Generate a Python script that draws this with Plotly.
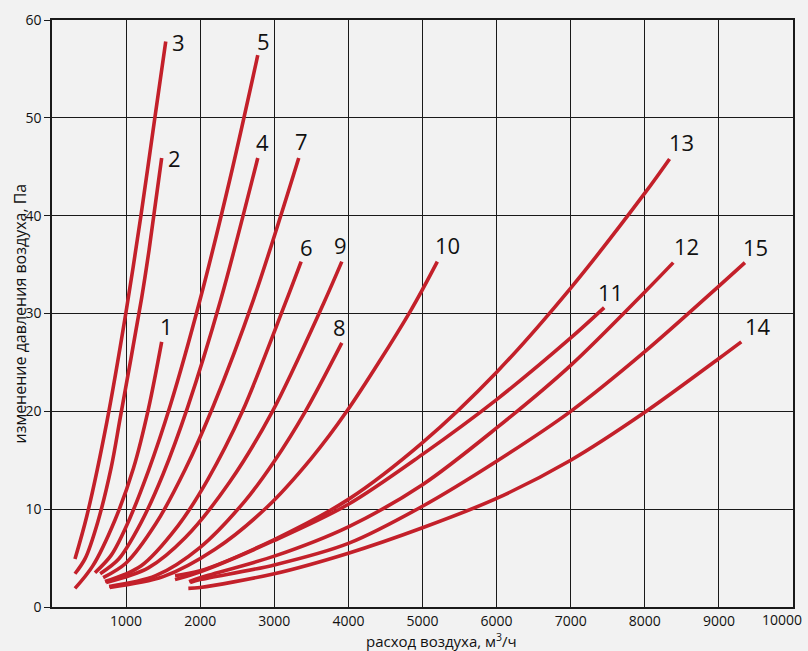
import plotly.graph_objects as go

BG = "#f2f2f2"
RED = "#c3202a"
INK = "#1a1a1a"
TEXT = "#111111"
FONT = "Open Sans"

# curve data: air flow (m3/h) -> pressure change (Pa)
C1_X = [310, 550, 850, 1100, 1300, 1480]
C1_Y = [1.9, 4.2, 8.9, 14.2, 20.2, 27.1]
C2_X = [310, 450, 618, 800, 920, 1210, 1310, 1480]
C2_Y = [3.4, 5.0, 8.7, 14.3, 19.3, 31.6, 36.5, 45.9]
C3_X = [310, 470, 740, 1000, 1200, 1388, 1535]
C3_Y = [4.9, 9.3, 18.9, 30.2, 40.0, 50.0, 57.8]
C4_X = [650, 900, 1200, 1500, 1830, 2277, 2777]
C4_Y = [3.4, 4.9, 8.6, 13.6, 20.4, 31.4, 45.9]
C5_X = [580, 800, 1000, 1300, 1600, 1998, 2400, 2777]
C5_Y = [3.5, 5.3, 8.2, 13.9, 20.7, 31.4, 43.7, 56.4]
C6_X = [715, 1200, 1700, 2100, 2570, 3146, 3362]
C6_Y = [2.6, 4.2, 8.3, 13.0, 20.0, 31.0, 35.3]
C7_X = [690, 1000, 1400, 1800, 2180, 2718, 3330]
C7_Y = [3.0, 4.5, 8.5, 14.1, 20.6, 31.4, 45.9]
C8_X = [770, 1400, 2000, 2600, 3000, 3420, 3911]
C8_Y = [2.1, 3.2, 6.1, 10.8, 14.9, 20.0, 27.0]
C9_X = [730, 1300, 1800, 2400, 2975, 3663, 3911]
C9_Y = [2.5, 4.0, 7.1, 12.8, 20.0, 31.0, 35.3]
C10_X = [780, 1500, 2200, 2900, 3500, 3978, 4833, 5200]
C10_Y = [2.0, 3.1, 5.9, 10.2, 15.2, 20.0, 30.2, 35.3]
C11_X = [1660, 2000, 3000, 4000, 5000, 6000, 7000, 7452]
C11_Y = [2.8, 3.6, 6.8, 10.5, 15.6, 21.2, 27.5, 30.6]
C12_X = [1850, 2000, 3000, 4000, 5000, 6000, 7000, 8000, 8384]
C12_Y = [2.6, 3.0, 5.2, 8.2, 12.5, 18.3, 24.7, 32.2, 35.2]
C13_X = [1660, 2000, 3000, 4000, 5000, 6000, 7000, 8000, 8334]
C13_Y = [3.2, 3.7, 6.9, 11.0, 16.8, 24.0, 32.6, 42.3, 45.8]
C14_X = [1840, 2000, 3000, 4000, 5000, 6000, 7000, 8000, 9000, 9302]
C14_Y = [1.9, 2.0, 3.4, 5.5, 8.1, 11.1, 15.0, 19.9, 25.4, 27.1]
C15_X = [1863, 2000, 3000, 4000, 5000, 6000, 7000, 8000, 9000, 9351]
C15_Y = [2.5, 2.8, 4.3, 6.5, 10.3, 14.9, 20.0, 26.1, 32.8, 35.2]

CURVE_NAMES = ["1", "2", "3", "4", "5", "6", "7", "8", "9", "10",
               "11", "12", "13", "14", "15"]
CURVES = [
  (C1_X, C1_Y), (C2_X, C2_Y), (C3_X, C3_Y), (C4_X, C4_Y), (C5_X, C5_Y),
  (C6_X, C6_Y), (C7_X, C7_Y), (C8_X, C8_Y), (C9_X, C9_Y), (C10_X, C10_Y),
  (C11_X, C11_Y), (C12_X, C12_Y), (C13_X, C13_Y), (C14_X, C14_Y),
  (C15_X, C15_Y),
]

X_TICKS = [1000, 2000, 3000, 4000, 5000, 6000, 7000, 8000, 9000, 10000]
Y_TICKS = [0, 10, 20, 30, 40, 50, 60]
X_TITLE = "расход воздуха, м<sup>3</sup>/ч"
Y_TITLE = "изменение давления воздуха, Па"

# pixel offset of each number label from its curve's end point
LABEL_SHIFT = {
  "1": (5, 16), "2": (13, 0), "3": (13, 0), "4": (5, 16), "5": (6, 14),
  "6": (5, 15), "7": (3, 17), "8": (-2, 16), "9": (-1, 17), "10": (10, 17),
  "11": (6, 16), "12": (13, 17), "13": (12, 17), "14": (17, 16),
  "15": (11, 16),
}

fig = go.Figure()
for name, (xs, ys) in zip(CURVE_NAMES, CURVES):
  fig.add_trace(
    go.Scatter(
      x=xs,
      y=ys,
      mode="lines",
      line=dict(color=RED, width=3.6, shape="spline", smoothing=0.9),
      name=name,
      hoverinfo="skip",
    )
  )
  dx, dy = LABEL_SHIFT[name]
  fig.add_annotation(
    x=xs[-1],
    y=ys[-1],
    text=name,
    showarrow=False,
    xshift=dx,
    yshift=dy,
    xanchor="center",
    yanchor="middle",
    font=dict(family=FONT, size=22, color=TEXT),
  )

# last x tick label sits pulled in from the right edge
tick_text = [str(v) for v in X_TICKS]
tick_text[-1] = ""
fig.add_annotation(
  x=X_TICKS[-1],
  y=0,
  text=str(X_TICKS[-1]),
  showarrow=False,
  xanchor="right",
  yanchor="top",
  xshift=11,
  yshift=-1,
  font=dict(family=FONT, size=14, color=TEXT),
)

fig.add_annotation(
  xref="paper",
  yref="paper",
  x=0.526,
  y=0,
  yshift=-21,
  text=X_TITLE,
  showarrow=False,
  xanchor="center",
  yanchor="top",
  font=dict(family=FONT, size=15, color=TEXT),
)
fig.add_annotation(
  xref="paper",
  yref="paper",
  x=0,
  y=0.5,
  xshift=-33,
  text=Y_TITLE,
  textangle=-90,
  showarrow=False,
  xanchor="center",
  yanchor="middle",
  font=dict(family=FONT, size=16, color=TEXT),
)

axis_common = dict(
  showgrid=True,
  gridcolor=INK,
  gridwidth=1.4,
  showline=True,
  linecolor=INK,
  linewidth=1.6,
  mirror=True,
  tickcolor=INK,
  zeroline=False,
  automargin=False,
  tickfont=dict(family=FONT, size=14, color=TEXT),
)
fig.update_xaxes(
  range=[0, 10000],
  tickvals=X_TICKS,
  ticktext=tick_text,
  ticks="",
  **axis_common,
)
fig.update_yaxes(
  range=[0, 60],
  tickvals=Y_TICKS,
  ticks="outside",
  ticklen=6,
  **axis_common,
)
fig.update_layout(
  width=808,
  height=651,
  paper_bgcolor=BG,
  plot_bgcolor=BG,
  showlegend=False,
  margin=dict(l=52, r=15, t=20, b=44),
)

# drop the page's default body margin so the chart fills the window
fig.write_html(
  "out.html",
  config={"displayModeBar": False},
  post_script=(
    "document.body.style.margin='0';"
    "document.body.style.background='#f2f2f2';"
    "document.body.style.overflow='hidden';"
  ),
)
